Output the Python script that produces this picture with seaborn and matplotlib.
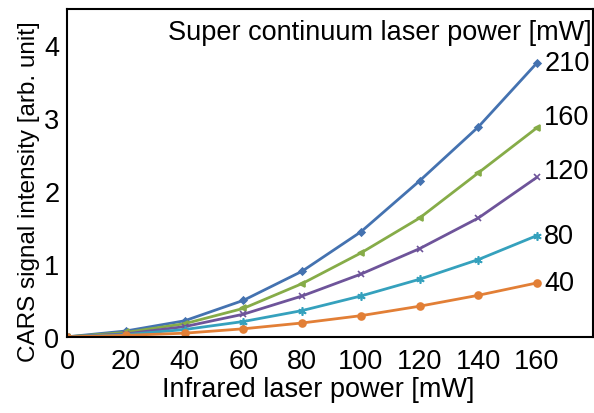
import matplotlib
matplotlib.use("Agg")
import matplotlib.pyplot as plt
import seaborn as sns
import pandas as pd
from matplotlib.ticker import MultipleLocator

ir_power = [0, 20, 40, 60, 80, 100, 120, 140, 160]
sc_powers = ["210", "160", "120", "80", "40"]
s210 = [0.0, 0.08, 0.22, 0.50, 0.90, 1.44, 2.14, 2.88, 3.76]
s160 = [0.0, 0.06, 0.18, 0.39, 0.73, 1.15, 1.63, 2.25, 2.87]
s120 = [0.0, 0.04, 0.14, 0.31, 0.56, 0.86, 1.21, 1.63, 2.19]
s80 = [0.0, 0.03, 0.10, 0.21, 0.36, 0.56, 0.79, 1.06, 1.39]
s40 = [0.0, 0.02, 0.05, 0.11, 0.19, 0.29, 0.42, 0.57, 0.74]
series = {"210": s210, "160": s160, "120": s120, "80": s80, "40": s40}
label_y = [3.76, 3.02, 2.27, 1.39, 0.74]

colors = {"210": "#4472B0", "160": "#86AC48", "120": "#6E549A", "80": "#35A1BD", "40": "#E27F36"}
markers = {"210": "D", "160": "<", "120": "x", "80": (6, 2, 0), "40": "o"}
msizes = {"210": 3.5, "160": 5, "120": 5, "80": 6, "40": 5}

rows = []
for k in sc_powers:
    for x, v in zip(ir_power, series[k]):
        rows.append({"ir": x, "val": v, "sc": k})
df = pd.DataFrame(rows)

sns.set_style("white")
plt.rcParams["font.family"] = ["Liberation Sans", "DejaVu Sans"]
plt.rcParams["text.color"] = "black"
plt.rcParams["axes.labelcolor"] = "black"
plt.rcParams["xtick.color"] = "black"
plt.rcParams["ytick.color"] = "black"

FS = 19.5
fig = plt.figure(figsize=(5.94, 4.14), dpi=100)
ax = fig.add_axes([0.113, 0.184, 0.885, 0.792])

for k in sc_powers:
    sub = df[df.sc == k]
    sns.lineplot(data=sub, x="ir", y="val", ax=ax, color=colors[k], marker=markers[k],
                 markersize=msizes[k], linewidth=2.0, markeredgecolor=colors[k],
                 markeredgewidth=1.2, legend=False)

for k, ly in zip(sc_powers, label_y):
    ax.text(162.5, ly, k, fontsize=FS, ha="left", va="center", color="black")
ax.text(178.5, 4.18, "Super continuum laser power [mW]", fontsize=FS, ha="right", va="center",
        color="black")

ax.set_xlim(0, 179)
ax.set_ylim(0, 4.5)
ax.xaxis.set_major_locator(MultipleLocator(20))
ax.yaxis.set_major_locator(MultipleLocator(1))
ax.yaxis.set_minor_locator(MultipleLocator(0.5))
ax.tick_params(axis="both", which="both", direction="in", length=6, width=1.5,
               labelsize=FS, top=False, right=False, colors="black")
ax.tick_params(axis="x", which="major", pad=8)
ax.tick_params(axis="y", which="major", pad=5.5)
ax.tick_params(axis="both", which="minor", labelleft=False)
for sp in ax.spines.values():
    sp.set_visible(True)
    sp.set_linewidth(1.5)
    sp.set_color("black")
ax.set_xlabel("Infrared laser power [mW]", fontsize=FS, color="black")
ax.set_ylabel("CARS signal intensity [arb. unit]", fontsize=17.5, color="black")
ax.xaxis.set_label_coords(0.477, -0.118)
ax.yaxis.set_label_coords(-0.052, 0.445)

fig.savefig("out.png", dpi=100)
